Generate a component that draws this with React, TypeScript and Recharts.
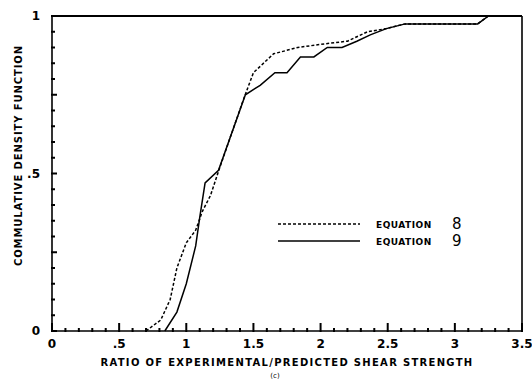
import { LineChart, Line, XAxis, YAxis, Label, ReferenceLine } from 'recharts'

// Equation 8 (dashed) and Equation 9 (solid)
const eq8X = [0.7, 0.81, 0.88, 0.93, 1.0, 1.07, 1.12, 1.18, 1.25, 1.43, 1.5, 1.65, 1.83, 2.0, 2.2, 2.35, 2.49, 2.63, 3.17, 3.25]
const eq8Y = [0, 0.035, 0.1, 0.2, 0.28, 0.32, 0.38, 0.43, 0.52, 0.74, 0.82, 0.88, 0.9, 0.91, 0.92, 0.95, 0.96, 0.975, 0.975, 1.0]

const eq9X = [0.84, 0.93, 1.0, 1.07, 1.1, 1.14, 1.24, 1.44, 1.55, 1.66, 1.75, 1.85, 1.95, 2.05, 2.16, 2.27, 2.37, 2.49, 2.63, 3.17, 3.25]
const eq9Y = [0, 0.06, 0.15, 0.27, 0.36, 0.47, 0.51, 0.75, 0.78, 0.82, 0.82, 0.87, 0.87, 0.9, 0.9, 0.92, 0.94, 0.96, 0.975, 0.975, 1.0]

const xMajor = [0, 0.5, 1, 1.5, 2, 2.5, 3, 3.5]
const xLabels = ['0', '.5', '1', '1.5', '2', '2.5', '3', '3.5']
const yLabeled = [0, 0.5, 1]
const yLabels = ['0', '.5', '1']
const yMedium = [0.25, 0.75]

const seriesNames = ['EQUATION', 'EQUATION']
const seriesNums = ['8', '9']

const eq8 = eq8X.map((x, i) => ({ x, y: eq8Y[i] }))
const eq9 = eq9X.map((x, i) => ({ x, y: eq9Y[i] }))

const round = (v: number) => Math.round(v * 100) / 100
const xTicks = Array.from({ length: 36 }, (_, i) => round(i * 0.1))
const yTicks = Array.from({ length: 21 }, (_, i) => round(i * 0.05))

const FONT = '"DejaVu Sans", sans-serif'

const renderXTick = (props: any) => {
  const { x, y, payload } = props
  const idx = xMajor.findIndex((m) => Math.abs(m - payload.value) < 1e-6)
  const major = idx >= 0
  const len = major ? 8 : 3
  return (
    <g key={`xt-${payload.value}`}>
      <line x1={x} x2={x} y1={y + 1} y2={y - len} stroke="#000" strokeWidth={2} />
      {major && (
        <text x={x} y={y + 17} textAnchor="middle" fontFamily={FONT} fontWeight="bold" fontSize={12} fill="#000">
          {xLabels[idx]}
        </text>
      )}
    </g>
  )
}

const renderYTick = (props: any) => {
  const { x, y, payload } = props
  const v = payload.value
  const idx = yLabeled.findIndex((m) => Math.abs(m - v) < 1e-6)
  const medium = yMedium.some((m) => Math.abs(m - v) < 1e-6)
  const len = idx >= 0 || medium ? 5 : 3
  return (
    <g key={`yt-${v}`}>
      <line x1={x - 1} x2={x + len} y1={y} y2={y} stroke="#000" strokeWidth={2} />
      {idx >= 0 && (
        <text x={x - 12} y={y + 4} textAnchor="end" fontFamily={FONT} fontWeight="bold" fontSize={12} fill="#000">
          {yLabels[idx]}
        </text>
      )}
    </g>
  )
}

const LegendBox = () => (
  <svg width={230} height={50} style={{ display: 'block' }}>
    {seriesNames.map((name, i) => (
      <g key={i} transform={`translate(0, ${14 + i * 17})`}>
        <line x1={0} x2={82} y1={0} y2={0} stroke="#000" strokeWidth={1.5} strokeDasharray={i === 0 ? '3 2' : undefined} />
        <text x={98} y={4} fontFamily={FONT} fontWeight="bold" fontSize={9} letterSpacing={0.5} fill="#000">
          {name}
        </text>
        <text x={174} y={5} fontFamily={FONT} fontSize={15} fill="#000">
          {seriesNums[i]}
        </text>
      </g>
    ))}
  </svg>
)

export default function App() {
  return (
    <div style={{ position: 'absolute', left: 0, top: 0, width: 532, height: 380, background: '#fff' }}>
      <LineChart width={532} height={380} margin={{ top: 16, right: 10, left: 12, bottom: 19 }}>
        <XAxis
          dataKey="x"
          type="number"
          domain={[0, 3.5]}
          ticks={xTicks}
          interval={0}
          height={30}
          tickSize={0}
          tickMargin={0}
          tick={renderXTick}
          axisLine={{ stroke: '#000', strokeWidth: 1.6 }}
          tickLine={false}
        >
          <Label
            value="RATIO OF EXPERIMENTAL/PREDICTED SHEAR STRENGTH"
            position="bottom"
            offset={-2}
            style={{ fontFamily: FONT, fontWeight: 'bold', fontSize: 10, letterSpacing: 1.3, fill: '#000' }}
          />
          <Label
            value="(c)"
            position="bottom"
            offset={12}
            dx={-12}
            style={{ fontFamily: FONT, fontSize: 7, fill: '#000' }}
          />
        </XAxis>
        <YAxis
          type="number"
          domain={[0, 1]}
          ticks={yTicks}
          interval={0}
          width={40}
          tickSize={0}
          tickMargin={0}
          tick={renderYTick}
          tickLine={false}
          axisLine={{ stroke: '#000', strokeWidth: 1.6 }}
        >
          <Label
            value="COMMULATIVE DENSITY FUNCTION"
            angle={-90}
            position="left"
            offset={-6}
            dy={-18}
            style={{ fontFamily: FONT, fontWeight: 'bold', fontSize: 10, letterSpacing: 0.9, fill: '#000', textAnchor: 'middle' }}
          />
        </YAxis>
        <ReferenceLine y={1} stroke="#000" strokeWidth={1.8} />
        <ReferenceLine x={3.5} stroke="#000" strokeWidth={1.6} />
        <Line
          data={eq8}
          dataKey="y"
          name="Equation 8"
          type="linear"
          stroke="#000"
          strokeWidth={1.5}
          strokeDasharray="3 2"
          dot={false}
          isAnimationActive={false}
        />
        <Line
          data={eq9}
          dataKey="y"
          name="Equation 9"
          type="linear"
          stroke="#000"
          strokeWidth={1.5}
          dot={false}
          isAnimationActive={false}
        />
      </LineChart>
      <div style={{ position: 'absolute', left: 278, top: 210 }}>
        <LegendBox />
      </div>
    </div>
  )
}
